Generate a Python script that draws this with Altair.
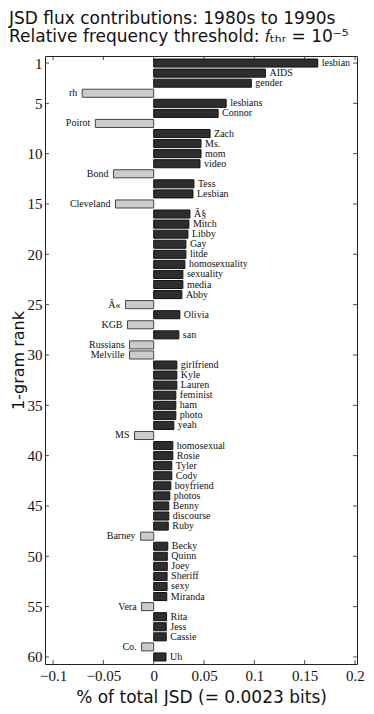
import altair as alt
import pandas as pd

words = ["lesbian", "AIDS", "gender", "rh", "lesbians", "Connor", "Poirot", "Zach", "Ms.", "mom",
         "video", "Bond", "Tess", "Lesbian", "Cleveland", "Â§", "Mitch", "Libby", "Gay", "litde",
         "homosexuality", "sexuality", "media", "Abby", "Â«", "Olivia", "KGB", "san", "Russians", "Melville",
         "girlfriend", "Kyle", "Lauren", "feminist", "ham", "photo", "yeah", "MS", "homosexual", "Rosie",
         "Tyler", "Cody", "boyfriend", "photos", "Benny", "discourse", "Ruby", "Barney", "Becky", "Quinn",
         "Joey", "Sheriff", "sexy", "Miranda", "Vera", "Rita", "Jess", "Cassie", "Co.", "Uh"]
values = [0.163, 0.111, 0.097, -0.071, 0.072, 0.064, -0.058, 0.056, 0.047, 0.047,
          0.046, -0.040, 0.040, 0.039, -0.038, 0.036, 0.035, 0.034, 0.032, 0.032,
          0.031, 0.029, 0.029, 0.028, -0.028, 0.026, -0.026, 0.025, -0.024, -0.024,
          0.023, 0.023, 0.023, 0.022, 0.022, 0.022, 0.020, -0.019, 0.019, 0.019,
          0.018, 0.018, 0.017, 0.016, 0.015, 0.015, 0.0145, -0.013, 0.014, 0.0135,
          0.0135, 0.0133, 0.0133, 0.013, -0.012, 0.0128, 0.0125, 0.0125, -0.012, 0.0122]
ranks = list(range(1, len(words) + 1))
x_ticks = [-0.1, -0.05, 0, 0.05, 0.1, 0.15, 0.2]
y_ticks = [1, 5, 10, 15, 20, 25, 30, 35, 40, 45, 50, 55, 60]

df = pd.DataFrame({"rank": ranks, "word": words, "value": values})
df["sign"] = ["pos" if v > 0 else "neg" for v in values]

W, H = 312, 608
xscale = alt.Scale(domain=[-0.108, 0.202], nice=False, zero=False)
yscale = alt.Scale(domain=[0.3, 60.7], reverse=True, nice=False, zero=False)
x_axis = alt.Axis(values=x_ticks, title="% of total JSD (= 0.0023 bits)",
                  labelExpr="datum.value == 0 ? '0' : format(datum.value, '~g')")
y_axis = alt.Axis(values=y_ticks, title="1-gram rank")

base = alt.Chart(df)

bars = base.transform_calculate(
    y0="datum.rank - 0.4", y1="datum.rank + 0.4", zero="0"
).mark_rect(strokeWidth=1).encode(
    x=alt.X("zero:Q", scale=xscale, axis=x_axis),
    x2="value:Q",
    y=alt.Y("y0:Q", scale=yscale, axis=y_axis),
    y2="y1:Q",
    fill=alt.Fill("sign:N", scale=alt.Scale(domain=["pos", "neg"], range=["#2e2e2e", "#cbcbcb"]), legend=None),
    stroke=alt.Stroke("sign:N", scale=alt.Scale(domain=["pos", "neg"], range=["#111111", "#444444"]), legend=None),
)

pos_text = base.transform_filter("datum.value > 0").mark_text(
    align="left", baseline="middle", dx=4, font="Liberation Serif", fontSize=10, color="#111"
).encode(x=alt.X("value:Q", scale=xscale, axis=x_axis), y=alt.Y("rank:Q", scale=yscale, axis=y_axis), text="word:N")

neg_text = base.transform_filter("datum.value < 0").mark_text(
    align="right", baseline="middle", dx=-5, font="Liberation Serif", fontSize=10, color="#111"
).encode(x=alt.X("value:Q", scale=xscale, axis=x_axis), y=alt.Y("rank:Q", scale=yscale, axis=y_axis), text="word:N")

xt = alt.Chart(pd.DataFrame({"t": x_ticks}))
yt = alt.Chart(pd.DataFrame({"t": y_ticks}))
tick_color = "#222"
top_ticks = xt.mark_rule(color=tick_color, strokeWidth=0.8).encode(
    x=alt.X("t:Q", scale=xscale, axis=x_axis), y=alt.value(0), y2=alt.value(4))
bot_ticks = xt.mark_rule(color=tick_color, strokeWidth=0.8).encode(
    x=alt.X("t:Q", scale=xscale, axis=x_axis), y=alt.value(H), y2=alt.value(H - 4))
left_ticks = yt.mark_rule(color=tick_color, strokeWidth=0.8).encode(
    y=alt.Y("t:Q", scale=yscale, axis=y_axis), x=alt.value(0), x2=alt.value(4))
right_ticks = yt.mark_rule(color=tick_color, strokeWidth=0.8).encode(
    y=alt.Y("t:Q", scale=yscale, axis=y_axis), x=alt.value(W), x2=alt.value(W - 4))

chart = alt.layer(bars, pos_text, neg_text, top_ticks, bot_ticks, left_ticks, right_ticks).properties(
    width=W, height=H,
    title=alt.TitleParams(
        ["JSD flux contributions: 1980s to 1990s", "Relative frequency threshold: 𝑓ₜₕᵣ = 10⁻⁵"],
        anchor="start", frame="group", dx=-36, offset=10,
        font="DejaVu Sans", fontSize=17, fontWeight="normal", color="#111", lineHeight=18,
    ),
    autosize=alt.AutoSizeParams(type="none"),
    padding={"left": 37, "top": 48, "right": 9, "bottom": 42},
).configure_view(
    stroke="#222", strokeWidth=1
).configure_axis(
    ticks=False, domain=False, grid=False,
    labelFont="Liberation Serif", labelFontSize=15, labelColor="#111",
    titleFont="DejaVu Sans", titleFontSize=17, titleFontWeight="normal", titleColor="#111",
).configure_axisX(
    labelPadding=4, titlePadding=6
).configure_axisY(
    labelPadding=3, titlePadding=1, titleFontSize=16
)

chart.save("out.html", embed_options={"renderer": "svg", "actions": False})
